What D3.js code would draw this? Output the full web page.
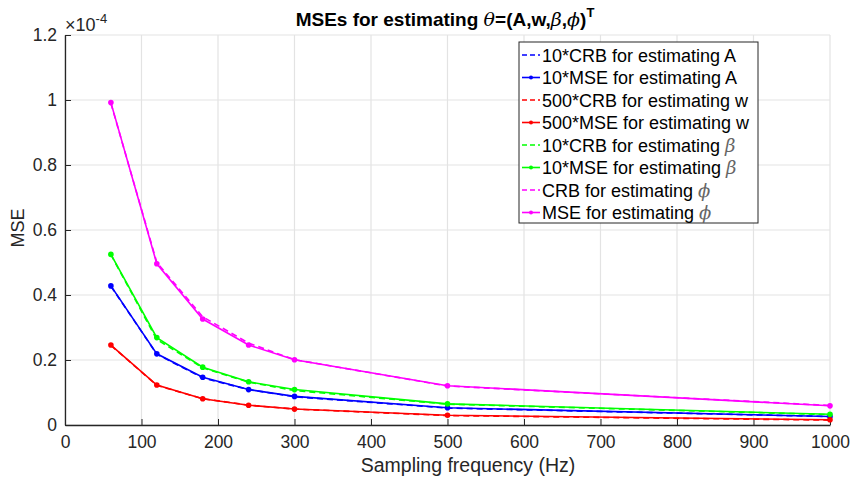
<!DOCTYPE html>
<html><head><meta charset="utf-8">
<script src="https://cdn.jsdelivr.net/npm/d3@7"></script>
<style>body{margin:0;background:#fff}svg{font-family:"Liberation Sans",Arial,sans-serif}</style>
</head><body><svg id="c" width="853" height="480"></svg>
<script>
const freq = [60, 120, 180, 240, 300, 500, 1000];
const crbA = [0.427, 0.218, 0.145, 0.109, 0.087, 0.052, 0.026];
const mseA = [0.428, 0.219, 0.147, 0.109, 0.088, 0.053, 0.026];
const crbW = [0.245, 0.122, 0.081, 0.061, 0.049, 0.029, 0.015];
const mseW = [0.246, 0.123, 0.081, 0.061, 0.049, 0.030, 0.016];
const crbB = [0.524, 0.263, 0.176, 0.132, 0.106, 0.064, 0.032];
const mseB = [0.525, 0.269, 0.178, 0.133, 0.109, 0.065, 0.033];
const crbPhi = [0.99, 0.500, 0.333, 0.252, 0.201, 0.120, 0.060];
const msePhi = [0.992, 0.496, 0.326, 0.246, 0.201, 0.121, 0.059];
const xTicks = [0,100,200,300,400,500,600,700,800,900,1000];
const yTicks = [0,0.2,0.4,0.6,0.8,1,1.2];

const series = [
  {name:"10*CRB for estimating A", v:crbA, c:"#0000ff", dash:true},
  {name:"10*MSE for estimating A", v:mseA, c:"#0000ff", dash:false},
  {name:"500*CRB for estimating w", v:crbW, c:"#ff0000", dash:true},
  {name:"500*MSE for estimating w", v:mseW, c:"#ff0000", dash:false},
  {name:"10*CRB for estimating ", g:"β", v:crbB, c:"#00ff00", dash:true},
  {name:"10*MSE for estimating ", g:"β", v:mseB, c:"#00ff00", dash:false},
  {name:"CRB for estimating ", g:"ϕ", v:crbPhi, c:"#ff00ff", dash:true},
  {name:"MSE for estimating ", g:"ϕ", v:msePhi, c:"#ff00ff", dash:false}
];

const svg = d3.select("#c");
const L=65, R=830, T=35, B=425;
const x = d3.scaleLinear().domain([0,1000]).range([L,R]);
const y = d3.scaleLinear().domain([0,1.2]).range([B,T]);
const ax = "#262626";

// grid
svg.append("g").selectAll("line").data(xTicks).join("line")
  .attr("x1",d=>x(d)).attr("x2",d=>x(d)).attr("y1",T).attr("y2",B)
  .attr("stroke","#e3e3e3").attr("stroke-width",1.2);
svg.append("g").selectAll("line").data(yTicks).join("line")
  .attr("x1",L).attr("x2",R).attr("y1",d=>y(d)).attr("y2",d=>y(d))
  .attr("stroke","#e3e3e3").attr("stroke-width",1.2);

// axes
const xa = svg.append("g").attr("transform",`translate(0,${B})`)
  .call(d3.axisBottom(x).tickValues(xTicks).tickSizeInner(-6).tickSizeOuter(0).tickPadding(11).tickFormat(d3.format("d")));
const ya = svg.append("g").attr("transform",`translate(${L},0)`)
  .call(d3.axisLeft(y).tickValues(yTicks).tickSizeInner(-6).tickSizeOuter(0).tickPadding(8).tickFormat(d=>d3.format("~g")(d)));
[xa,ya].forEach(a=>{
  a.selectAll("path").attr("stroke",ax).attr("stroke-width",1.3);
  a.selectAll("line").attr("stroke",ax);
  a.selectAll("text").attr("fill",ax).style("font-size","17.5px").style("font-family","Liberation Sans, Arial, sans-serif");
});
xa.selectAll("text").attr("dy","0.71em");

// multiplier
const mt = svg.append("text").attr("x",L).attr("y",31).attr("fill",ax).style("font-size","18px");
mt.append("tspan").text("×10");
mt.append("tspan").attr("dy",-8).style("font-size","13px").text("-4");

// labels
svg.append("text").attr("x",468).attr("y",472).attr("text-anchor","middle").attr("fill",ax)
  .style("font-size","19.5px").text("Sampling frequency (Hz)");
svg.append("text").attr("transform",`translate(24,228) rotate(-90)`).attr("text-anchor","middle").attr("fill",ax)
  .style("font-size","18px").text("MSE");

// title
const tt = svg.append("text").attr("x",445).attr("y",26).attr("text-anchor","middle").attr("fill","#000")
  .style("font-size","19px").style("font-weight","bold");
tt.append("tspan").text("MSEs for estimating ");
tt.append("tspan").style("font-family","DejaVu Serif, serif").style("font-style","italic").style("font-weight","normal").text("θ");
tt.append("tspan").text("=(A,w,");
tt.append("tspan").style("font-family","DejaVu Serif, serif").style("font-style","italic").style("font-weight","normal").text("β");
tt.append("tspan").text(",");
tt.append("tspan").style("font-family","DejaVu Serif, serif").style("font-style","italic").style("font-weight","normal").text("ϕ");
tt.append("tspan").text(")");
tt.append("tspan").attr("dy",-9).style("font-size","13px").text("T");

// series
const line = d3.line().x((d,i)=>x(freq[i])).y(d=>y(d));
series.forEach(s=>{
  svg.append("path").datum(s.v).attr("d",line).attr("fill","none").attr("stroke",s.c)
    .attr("stroke-width",1.6).attr("stroke-dasharray",s.dash?"6,4":null);
  if(!s.dash){
    svg.append("g").selectAll("circle").data(s.v).join("circle")
      .attr("cx",(d,i)=>x(freq[i])).attr("cy",d=>y(d)).attr("r",2.8).attr("fill",s.c);
  }
});

// legend
const lx=519, ly=42, lw=239, lh=181, rh=22.5;
svg.append("rect").attr("x",lx).attr("y",ly).attr("width",lw).attr("height",lh)
  .attr("fill","#fff").attr("stroke","#262626").attr("stroke-width",1);
series.forEach((s,i)=>{
  const cy = ly+13+i*rh;
  svg.append("line").attr("x1",lx+3).attr("x2",lx+21).attr("y1",cy).attr("y2",cy)
    .attr("stroke",s.c).attr("stroke-width",1.6).attr("stroke-dasharray",s.dash?"5,3":null);
  if(!s.dash) svg.append("circle").attr("cx",lx+12).attr("cy",cy).attr("r",2).attr("fill",s.c);
  const t = svg.append("text").attr("x",lx+23).attr("y",cy+6.5).attr("fill","#000").style("font-size","18px");
  t.append("tspan").text(s.name);
  if(s.g) t.append("tspan").style("font-family","DejaVu Serif, serif").style("font-style","italic").attr("fill","#666").text(s.g);
});
</script></body></html>
